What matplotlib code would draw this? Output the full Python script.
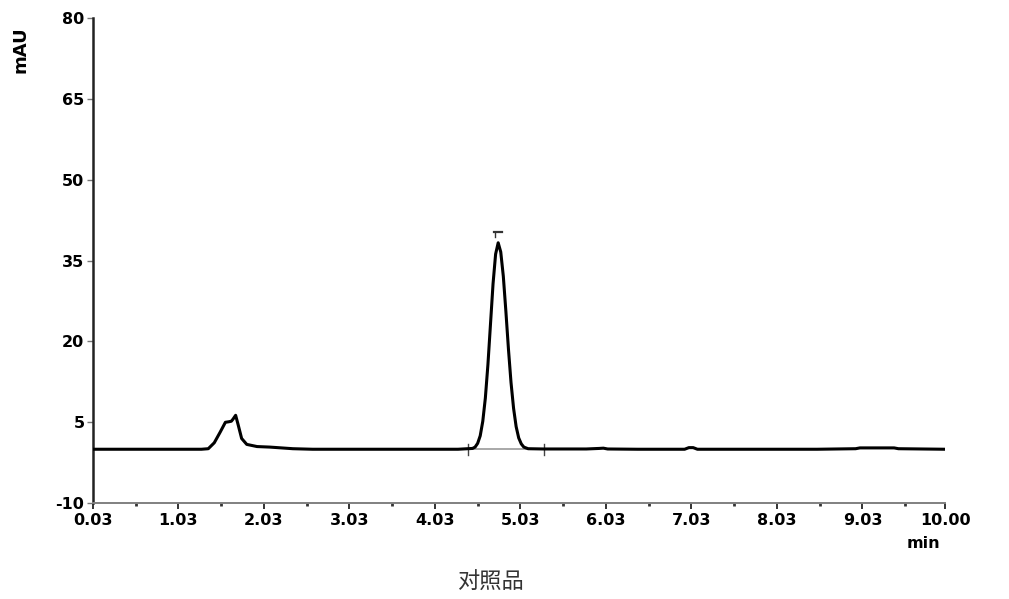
import matplotlib.pyplot as plt

plt.rcParams['axes.unicode_minus'] = False

# chromatogram trace (time in min, signal in mAU)
time_min = [0.03, 0.60, 1.00, 1.30, 1.38, 1.45, 1.52, 1.58, 1.62, 1.65, 1.67, 1.70,
            1.73, 1.77, 1.83, 1.95, 2.10, 2.37, 2.60, 3.50, 4.30, 4.47, 4.50,
            4.53, 4.56, 4.59, 4.62, 4.65, 4.68, 4.71, 4.74, 4.77, 4.80, 4.83,
            4.86, 4.89, 4.92, 4.95, 4.98, 5.01, 5.04, 5.07, 5.12, 5.30, 5.80,
            5.95, 6.00, 6.05, 6.40, 6.95, 7.00, 7.05, 7.10, 8.50, 8.95, 9.00,
            9.40, 9.45, 10.00]
signal_mau = [0.0, 0.0, 0.0, 0.0, 0.1, 1.2, 3.2, 5.0, 5.1, 5.2, 5.6, 6.3,
              4.5, 2.0, 0.9, 0.5, 0.4, 0.1, 0.0, 0.0, 0.0, 0.15, 0.4,
              1.1, 2.5, 5.2, 9.5, 15.7, 23.2, 30.7, 36.2, 38.3, 36.6, 32.1,
              25.6, 18.6, 12.4, 7.6, 4.2, 2.1, 1.0, 0.4, 0.1, 0.05, 0.05,
              0.15, 0.2, 0.05, 0.0, 0.0, 0.3, 0.3, 0.0, 0.0, 0.1, 0.25,
              0.25, 0.1, 0.0]

# integration events of the main peak
peak_start, peak_end = 4.42, 5.31
peak_apex_time, peak_apex_mark = 4.77, 40.3

y_ticks = [-10, 5, 20, 35, 50, 65, 80]
x_ticks = [0.03, 1.03, 2.03, 3.03, 4.03, 5.03, 6.03, 7.03, 8.03, 9.03, 10.00]
x_minor = [0.53, 1.53, 2.53, 3.53, 4.53, 5.53, 6.53, 7.53, 8.53, 9.53]

fig = plt.figure(figsize=(10.09, 5.99), dpi=100)
ax = fig.add_axes([0.092, 0.160, 0.845, 0.810])

# baseline of the integrated peak (grey) and the trace
ax.plot([peak_start, peak_end], [0, 0], color='#9a9a9a', lw=1.2, zorder=2)
ax.plot(time_min, signal_mau, color='black', lw=2.2, solid_joinstyle='round', zorder=3)
ax.plot([peak_start, peak_start], [-1.1, 0.9], color='#444444', lw=1.0)
ax.plot([peak_end, peak_end], [-1.1, 0.9], color='#444444', lw=1.0)
# peak label marker
ax.plot([peak_apex_time - 0.05, peak_apex_time + 0.05], [peak_apex_mark, peak_apex_mark],
        color='#333333', lw=1.6)
ax.plot([peak_apex_time - 0.04, peak_apex_time - 0.04], [peak_apex_mark, peak_apex_mark - 0.9],
        color='#333333', lw=1.0)

ax.set_xlim(0.03, 10.00)
ax.set_ylim(-10, 80)
ax.set_xticks(x_ticks)
ax.set_xticklabels(['%.2f' % t for t in x_ticks])
ax.set_xticks(x_minor, minor=True)
ax.set_yticks(y_ticks)

for side in ['top', 'right']:
    ax.spines[side].set_visible(False)
ax.spines['left'].set_color('#222222')
ax.spines['left'].set_linewidth(1.8)
ax.spines['bottom'].set_color('#808080')
ax.spines['bottom'].set_linewidth(1.4)

ax.tick_params(axis='x', which='major', direction='out', length=4, width=1.4,
               color='#333333', pad=3)
ax.tick_params(axis='x', which='minor', direction='out', length=2, width=2,
               color='#333333')
ax.tick_params(axis='y', which='major', direction='out', length=4, width=1.0,
               color='#777777', pad=2)
for lab in ax.get_xticklabels() + ax.get_yticklabels():
    lab.set_fontfamily('DejaVu Sans')
    lab.set_fontweight('bold')
    lab.set_fontsize(11.5)

fig.text(0.020, 0.917, 'mAU', rotation=90, ha='center', va='center',
         fontsize=13, fontweight='bold', family='DejaVu Sans')
fig.text(0.915, 0.092, 'min', ha='center', va='center',
         fontsize=11.5, fontweight='bold', family='DejaVu Sans')
fig.text(0.487, 0.028, '对照品', ha='center', va='center', fontsize=16,
         color='#333333', family=['Noto Sans CJK SC', 'DejaVu Sans'])

fig.savefig('out.png', dpi=100)
